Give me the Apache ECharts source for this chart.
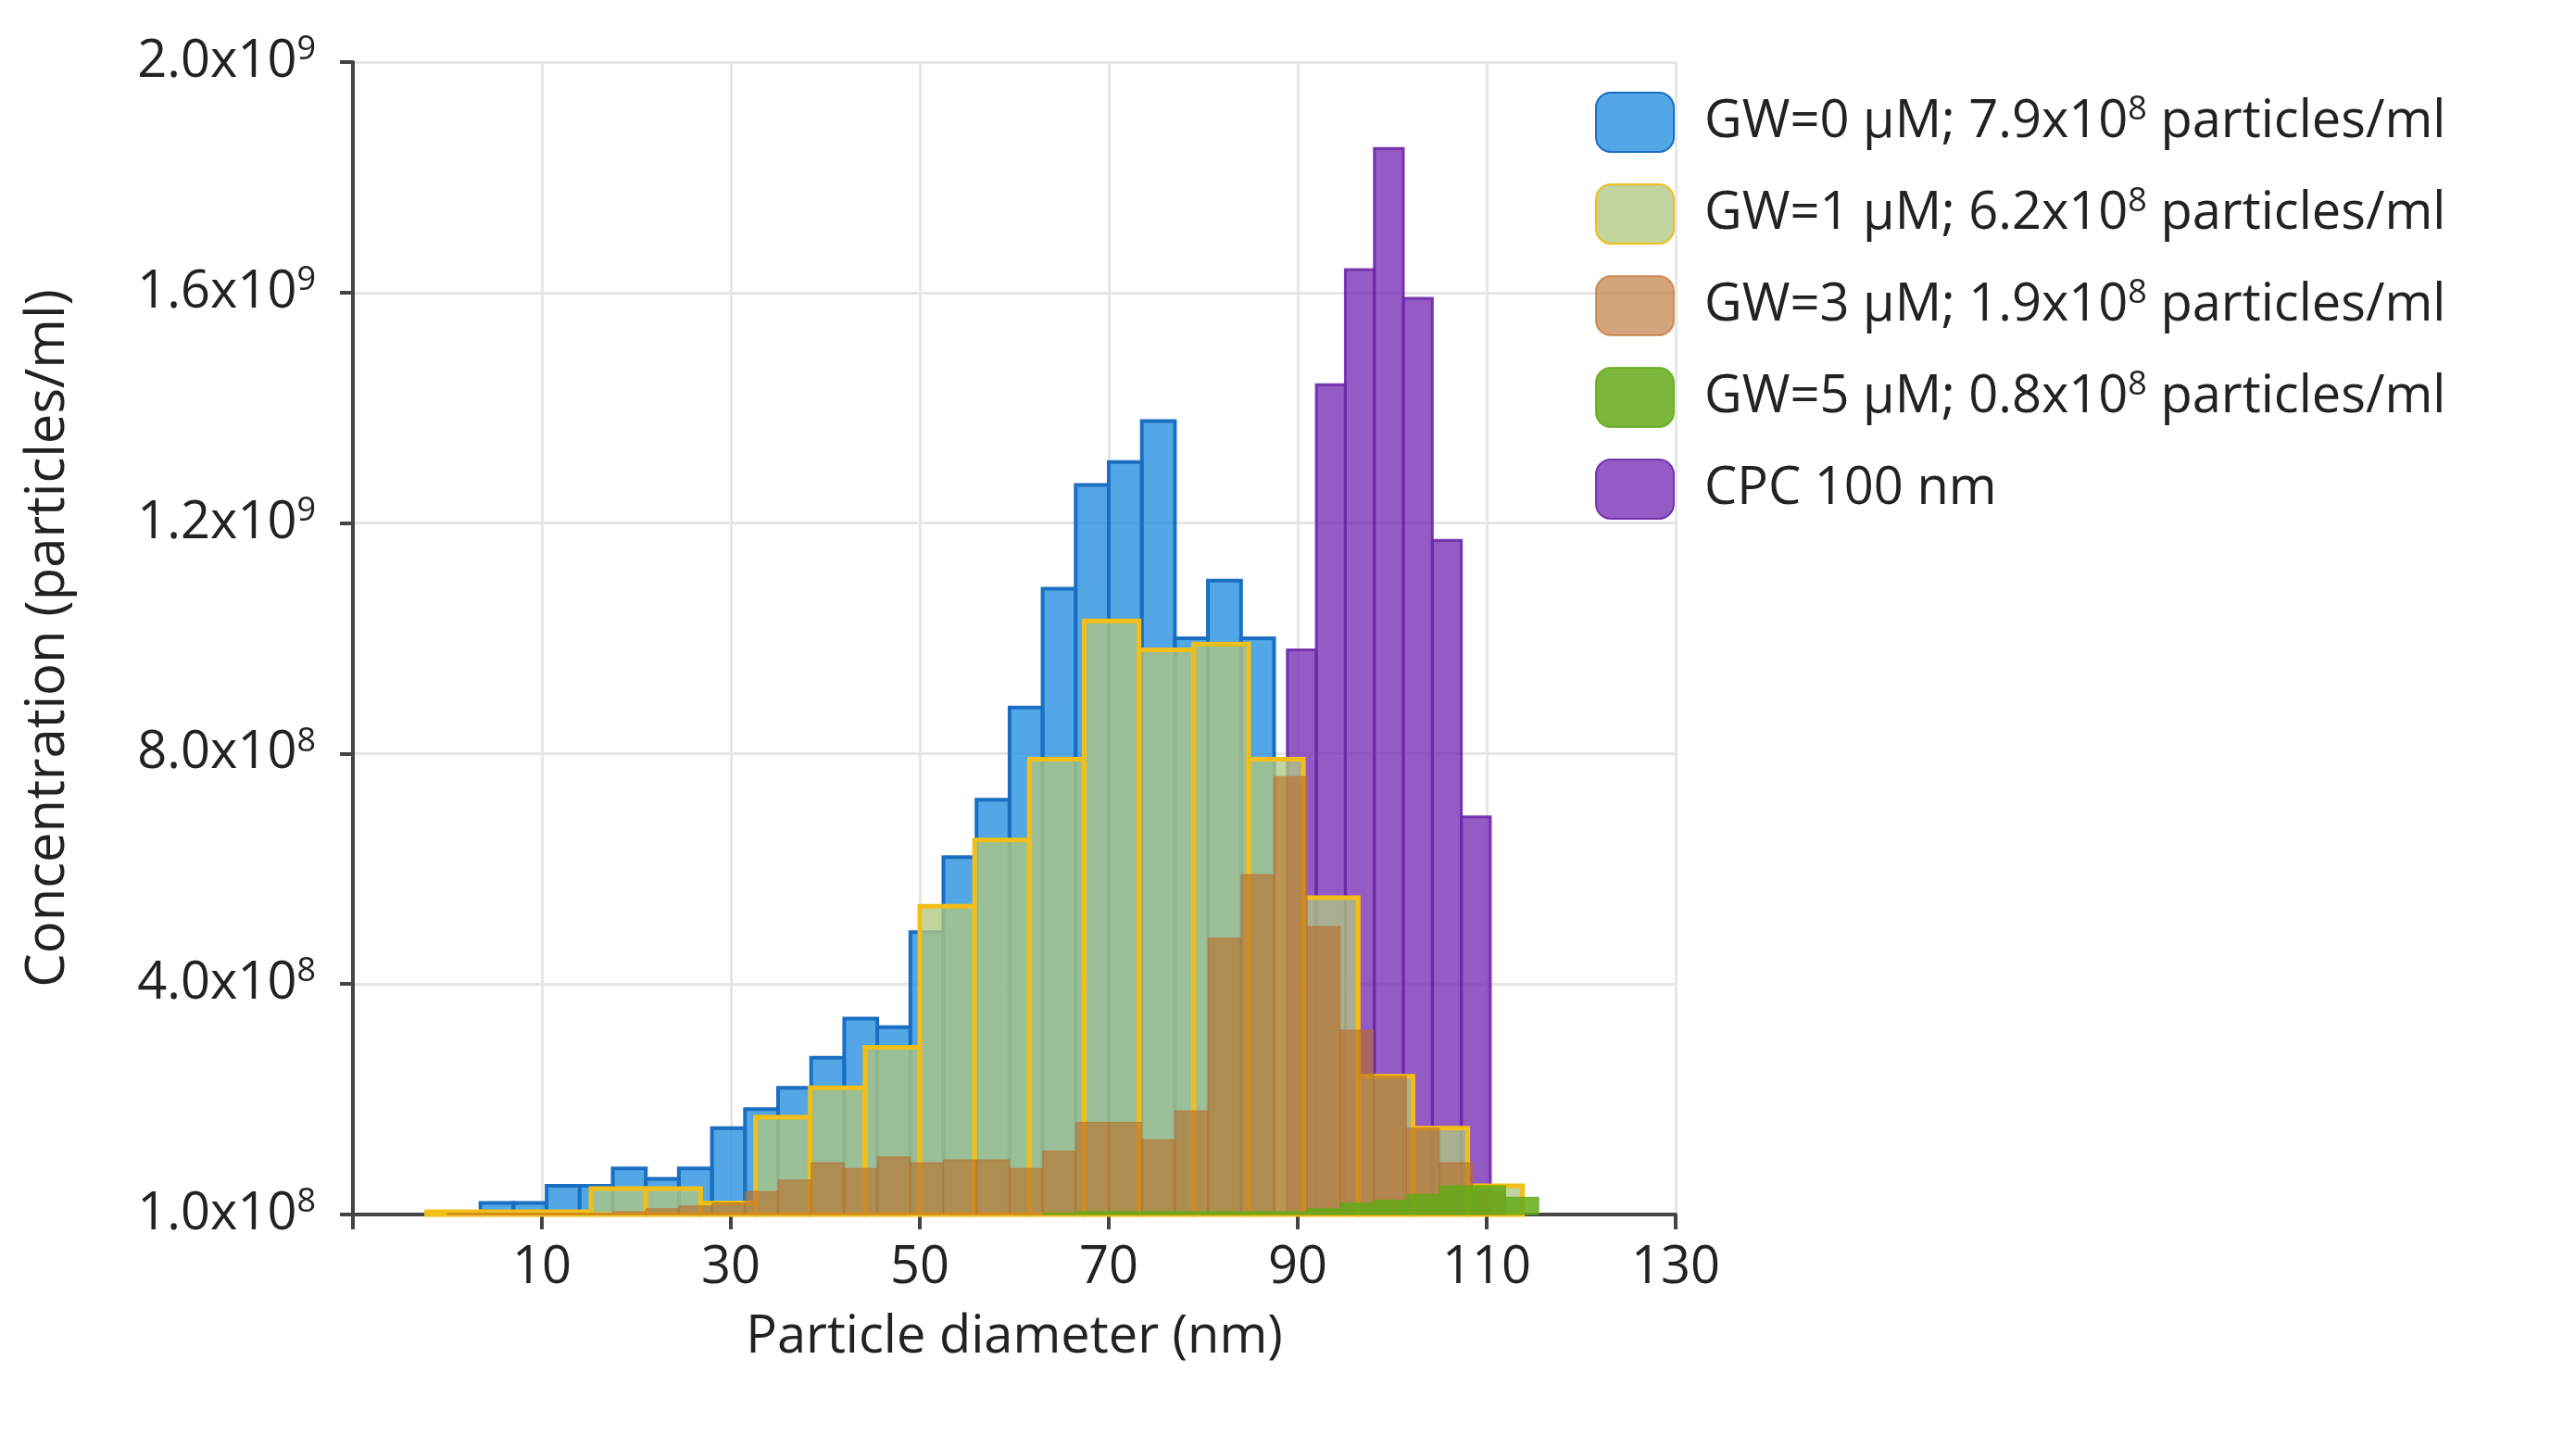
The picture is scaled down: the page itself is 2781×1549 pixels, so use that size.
<!DOCTYPE html>
<html><head><meta charset="utf-8">
<script src="https://cdn.jsdelivr.net/npm/echarts@6/dist/echarts.min.js"></script>
<style>html,body{margin:0;background:#fff}#c{width:2781px;height:1549px}</style>
</head><body><div id="c"></div>
<script>
// values in units of 1e8 particles/ml
const blueStart = 0, blueWidth = 3.5;
const blueValues = [0.05,0.2,0.2,0.5,0.5,0.8,0.62,0.8,1.5,1.83,2.2,2.72,3.4,3.25,4.9,6.2,7.2,8.8,10.86,12.66,13.06,13.77,10.0,11.0,10.0];
const yellowStart = -2.2, yellowWidth = 5.8;
const yellowValues = [0.05,0.05,0.05,0.45,0.45,0.2,1.69,2.2,2.9,5.35,6.5,7.9,10.3,9.8,9.9,7.9,5.5,2.4,1.5,0.5];
const brownStart = 0, brownWidth = 3.5;
const brownValues = [0.02,0.02,0.02,0.02,0.02,0.05,0.1,0.15,0.2,0.4,0.6,0.9,0.8,1.0,0.9,0.95,0.95,0.8,1.1,1.6,1.6,1.3,1.8,4.8,5.9,7.6,5.0,3.2,2.4,1.5,0.9,0.4];
const greenStart = 63, greenWidth = 3.5;
const greenValues = [0.03,0.05,0.05,0.05,0.05,0.05,0.05,0.05,0.1,0.2,0.25,0.35,0.5,0.5,0.3];
const purpleStart = 88.9, purpleWidth = 3.07;
const purpleValues = [9.8,14.4,16.4,18.5,15.9,11.7,6.9];
const yTickLabels = {0:['1.0','8'],4:['4.0','8'],8:['8.0','8'],12:['1.2','9'],16:['1.6','9'],20:['2.0','9']};
const seriesNames = ['GW=0 μM; 7.9x10{s|8} particles/ml','GW=1 μM; 6.2x10{s|8} particles/ml','GW=3 μM; 1.9x10{s|8} particles/ml','GW=5 μM; 0.8x10{s|8} particles/ml','CPC 100 nm'];
const names = ['GW=0','GW=1','GW=3','GW=5','CPC'];

function bins(start, w, vals){ return vals.map((v,i)=>[start+i*w, start+(i+1)*w, v]); }
function render(params, api){
  const p0 = api.coord([api.value(0), api.value(2)]);
  const p1 = api.coord([api.value(1), 0]);
  return {type:'rect', shape:{x:p0[0], y:p0[1], width:p1[0]-p0[0], height:p1[1]-p0[1]}, style:api.style()};
}
function mk(name, data, style, z){
  return {name, type:'custom', renderItem:render, data, encode:{x:[0,1], y:2}, itemStyle:style, z};
}
const chart = echarts.init(document.getElementById('c'));
const font = 'Open Sans';
const rich = {s:{fontSize:36, fontFamily:font, color:'#222', padding:[0,0,26,0]}};
chart.setOption({
  animation:false,
  grid:{left:381, right:972, top:67, bottom:238},
  xAxis:{type:'value', min:-10, max:130, interval:20,
    name:'Particle diameter (nm)', nameLocation:'middle', nameGap:105,
    nameTextStyle:{fontSize:56, color:'#222', fontFamily:font},
    axisLine:{onZero:false, lineStyle:{color:'#444', width:4}}, axisTick:{show:true, length:16, lineStyle:{color:'#444', width:4}},
    axisLabel:{fontSize:56, color:'#222', fontFamily:font, margin:30, formatter:v=>v===-10?'':String(v)},
    splitLine:{show:true, lineStyle:{color:'#e6e6e6', width:3}}},
  yAxis:{type:'value', min:0, max:20, interval:4,
    name:'Concentration (particles/ml)', nameLocation:'middle', nameGap:300,
    nameTextStyle:{fontSize:58, color:'#222', fontFamily:font},
    axisLine:{show:true, onZero:false, lineStyle:{color:'#444', width:4}}, axisTick:{show:true, length:14, lineStyle:{color:'#444', width:4}},
    axisLabel:{fontSize:56, color:'#222', fontFamily:font, margin:40,
      formatter:v=>{const t=yTickLabels[v]; return t?t[0]+'x10{s|'+t[1]+'}':'';}, rich},
    splitLine:{show:true, lineStyle:{color:'#e6e6e6', width:3}}},
  legend:{orient:'vertical', left:1717, top:94, itemWidth:84, itemHeight:64, itemGap:33,
    data:names, formatter:n=>seriesNames[names.indexOf(n)],
    textStyle:{fontSize:56, color:'#222', fontFamily:font, padding:[0,0,0,28], rich}},
  series:[
    mk('CPC', bins(purpleStart,purpleWidth,purpleValues), {color:'rgba(120,50,180,0.8)', borderColor:'rgba(110,40,170,0.9)', borderWidth:3}, 1),
    mk('GW=0', bins(blueStart,blueWidth,blueValues), {color:'rgba(40,145,225,0.8)', borderColor:'#1b6fc2', borderWidth:4}, 2),
    mk('GW=1', bins(yellowStart,yellowWidth,yellowValues), {color:'rgba(175,200,130,0.78)', borderColor:'#f4be18', borderWidth:5}, 3),
    mk('GW=3', bins(brownStart,brownWidth,brownValues), {color:'rgba(185,110,40,0.62)', borderColor:'rgba(185,110,40,0.62)', borderWidth:1}, 4),
    mk('GW=5', bins(greenStart,greenWidth,greenValues), {color:'rgba(100,170,25,0.85)', borderColor:'rgba(100,170,25,0.85)', borderWidth:1}, 5)
  ]
});
</script></body></html>
